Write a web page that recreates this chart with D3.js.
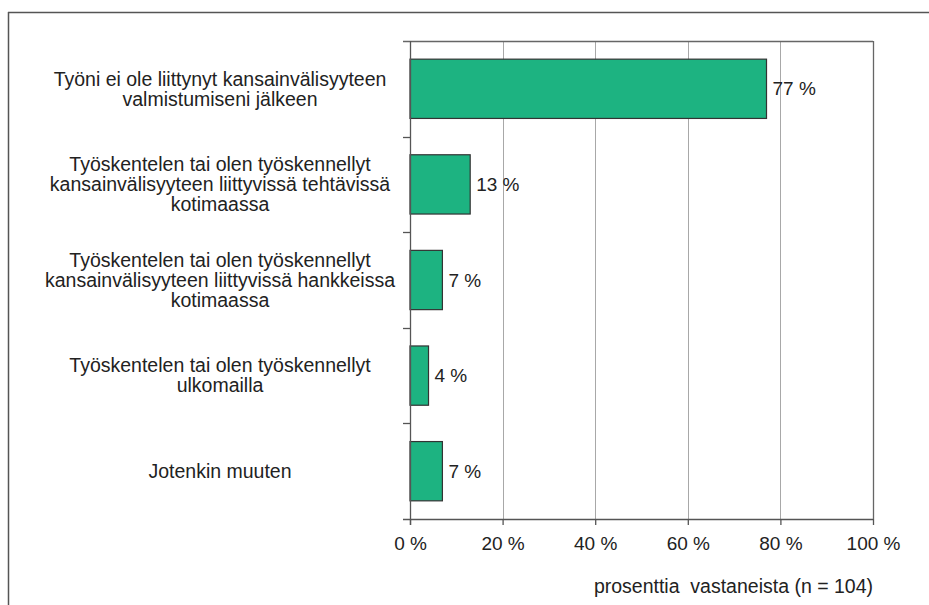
<!DOCTYPE html>
<html>
<head>
<meta charset="utf-8">
<script src="https://cdn.jsdelivr.net/npm/d3@7"></script>
<style>
  html, body { margin: 0; padding: 0; background: #fff; }
  svg { display: block; font-family: "Liberation Sans", Arial, sans-serif; }
</style>
</head>
<body>
<svg id="chart" width="929" height="605"></svg>
<script>
// Categories (each entry is a list of label lines) and their shares of respondents (%)
const categories = [
  ["Työni ei ole liittynyt kansainvälisyyteen", "valmistumiseni jälkeen"],
  ["Työskentelen tai olen työskennellyt", "kansainvälisyyteen liittyvissä tehtävissä", "kotimaassa"],
  ["Työskentelen tai olen työskennellyt", "kansainvälisyyteen liittyvissä hankkeissa", "kotimaassa"],
  ["Työskentelen tai olen työskennellyt", "ulkomailla"],
  ["Jotenkin muuten"]
];
const values = [77, 13, 7, 4, 7];
const xTicks = [0, 20, 40, 60, 80, 100];
const xTitle = "prosenttia  vastaneista (n = 104)";

const svg = d3.select("#chart");
const margin = { left: 410, right: 56, top: 41, bottom: 86 };
const W = 929, H = 605;

// Outer frame: top and left edges only
svg.append("line").attr("x1", 8).attr("x2", W).attr("y1", 12.5).attr("y2", 12.5)
  .attr("stroke", "#555").attr("stroke-width", 1.5);
svg.append("line").attr("x1", 8.5).attr("x2", 8.5).attr("y1", 12).attr("y2", H)
  .attr("stroke", "#555").attr("stroke-width", 1.5);

const x = d3.scaleLinear().domain([0, 100]).range([margin.left, W - margin.right]);
const keys = categories.map((c, i) => i);
const y = d3.scaleBand().domain(keys).range([margin.top, H - margin.bottom])
  .paddingInner(0.38).paddingOuter(0.19);
const yEdge = d3.scaleLinear().domain([0, categories.length]).range([margin.top, H - margin.bottom]);

const x0 = x(0), x1 = x(100), yTop = margin.top, yBot = H - margin.bottom;

// Vertical gridlines
svg.append("g").selectAll("line").data(xTicks.filter(t => t > 0 && t < 100)).join("line")
  .attr("x1", d => Math.round(x(d)) + 0.5).attr("x2", d => Math.round(x(d)) + 0.5)
  .attr("y1", yTop).attr("y2", yBot)
  .attr("stroke", "#a8a8a8").attr("stroke-width", 1);

// Plot frame: top and right
svg.append("line").attr("x1", x0 - 7).attr("x2", x1).attr("y1", yTop + 0.5).attr("y2", yTop + 0.5)
  .attr("stroke", "#666").attr("stroke-width", 1.3);
svg.append("line").attr("x1", x1 + 0.5).attr("x2", x1 + 0.5).attr("y1", yTop).attr("y2", yBot)
  .attr("stroke", "#666").attr("stroke-width", 1.3);

// Bars
svg.append("g").selectAll("rect").data(values).join("rect")
  .attr("x", x0)
  .attr("y", (d, i) => y(i))
  .attr("width", d => x(d) - x0)
  .attr("height", y.bandwidth())
  .attr("fill", "#1db381")
  .attr("stroke", "#333")
  .attr("stroke-width", 1.2);

// Value labels
svg.append("g").selectAll("text").data(values).join("text")
  .attr("x", d => x(d) + 6)
  .attr("y", (d, i) => y(i) + y.bandwidth() / 2)
  .attr("dy", "0.35em")
  .attr("font-size", 19)
  .attr("fill", "#222")
  .text(d => d + " %");

// X axis
const xAxis = d3.axisBottom(x).tickValues(xTicks).tickFormat(d => d + " %")
  .tickSize(6).tickPadding(12).tickSizeOuter(0);
const gx = svg.append("g").attr("transform", `translate(0,${yBot})`).call(xAxis);
gx.select(".domain").attr("stroke", "#555").attr("stroke-width", 1.3)
  .attr("d", `M${x0 - 7},0.5H${x1}`);
gx.selectAll(".tick line").attr("stroke", "#555").attr("stroke-width", 1.3);
gx.selectAll(".tick text").attr("font-size", 19).attr("fill", "#222")
  .attr("font-family", "'Liberation Sans', Arial, sans-serif");

// Y axis line with ticks at category boundaries
svg.append("line").attr("x1", x0 + 0.5).attr("x2", x0 + 0.5).attr("y1", yTop).attr("y2", yBot + 6)
  .attr("stroke", "#555").attr("stroke-width", 1.3);
svg.append("g").selectAll("line").data(d3.range(1, categories.length)).join("line")
  .attr("x1", x0 - 7).attr("x2", x0)
  .attr("y1", d => Math.round(yEdge(d)) + 0.5).attr("y2", d => Math.round(yEdge(d)) + 0.5)
  .attr("stroke", "#555").attr("stroke-width", 1.3);

// Category labels, centred in the left column
const lineH = 20;
const labels = svg.append("g").selectAll("text").data(categories).join("text")
  .attr("text-anchor", "middle")
  .attr("font-size", 19.5)
  .attr("fill", "#222")
  .attr("transform", (d, i) => `translate(220,${y(i) + y.bandwidth() / 2})`);
labels.each(function(lines) {
  const t = d3.select(this);
  lines.forEach((ln, k) => {
    t.append("tspan").attr("x", 0)
      .attr("y", (k - (lines.length - 1) / 2) * lineH)
      .attr("dy", "0.35em")
      .text(ln);
  });
});

// Axis title (double space kept)
svg.append("text")
  .attr("x", x1).attr("y", 593)
  .attr("text-anchor", "end")
  .attr("font-size", 19.5)
  .attr("fill", "#222")
  .style("white-space", "pre")
  .text(xTitle);
</script>
</body>
</html>
